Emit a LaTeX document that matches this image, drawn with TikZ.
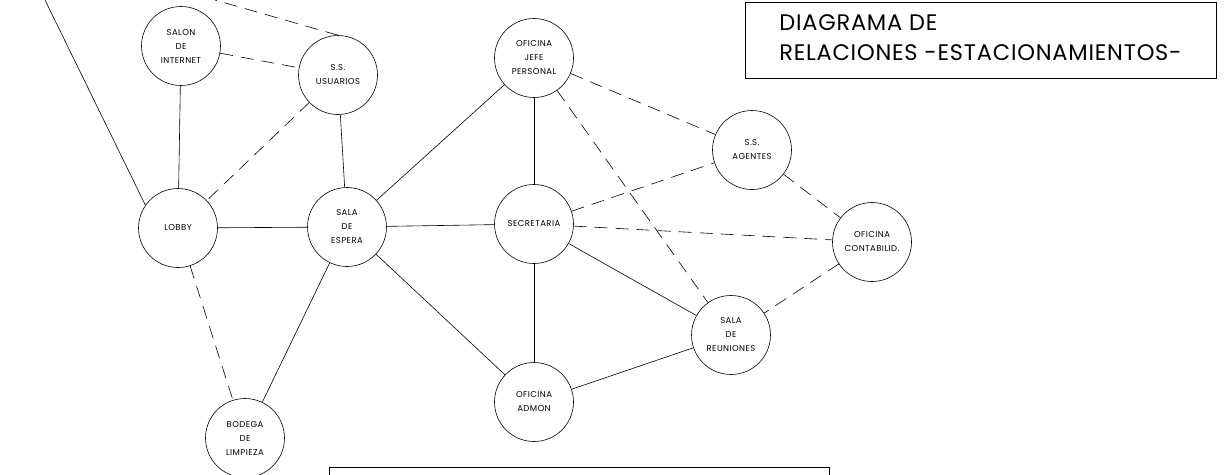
\documentclass[tikz,border=0pt]{standalone}
\usepackage{fontspec}
\setmainfont{Poppins}
\begin{document}
\begin{tikzpicture}[x=1pt, y=-1pt, line width=0.6pt, every node/.style={font=\fontsize{8.5}{14}\selectfont\addfontfeature{LetterSpace=5}}]
  \tikzstyle{room}=[draw,circle,minimum size=79pt,inner sep=0pt,align=center]
  \tikzstyle{rel}=[draw]
  \tikzstyle{weak}=[draw,dash pattern=on 13pt off 8pt]
  \useasboundingbox (0,0) rectangle (1228,474);
  \clip (0,0) rectangle (1228,474);
  % rooms
  \node[room] (salon) at (181,46) {SALON\\DE\\INTERNET};
  \node[room] (ssu) at (338,75) {S.S.\\USUARIOS};
  \node[room] (jefe) at (534,58) {OFICINA\\JEFE\\PERSONAL};
  \node[room] (ssa) at (752,150) {S.S.\\AGENTES};
  \node[room] (lobby) at (178,228) {LOBBY};
  \node[room] (espera) at (347,227) {SALA\\DE\\ESPERA};
  \node[room] (secre) at (534,224) {SECRETARIA};
  \node[room] (conta) at (872,242) {OFICINA\\CONTABILID.};
  \node[room] (reun) at (731,335) {SALA\\DE\\REUNIONES};
  \node[room] (admon) at (534,402) {OFICINA\\ADMON};
  \node[room] (bodega) at (245,438) {BODEGA\\DE\\LIMPIEZA};
  \coordinate (outA) at (45,0);
  \coordinate (outB) at (215,0);
  % solid relations
  \draw[rel] (lobby.145) -- (outA);
  \draw[rel] (salon) -- (lobby);
  \draw[rel] (ssu) -- (espera);
  \draw[rel] (lobby) -- (espera);
  \draw[rel] (espera) -- (jefe);
  \draw[rel] (espera) -- (secre);
  \draw[rel] (espera) -- (bodega);
  \draw[rel] (espera) -- (admon);
  \draw[rel] (jefe) -- (secre);
  \draw[rel] (secre) -- (admon);
  \draw[rel] (secre) -- (reun);
  \draw[rel] (admon) -- (reun);
  % dashed relations
  \draw[weak] (ssu.north) -- (outB);
  \draw[weak] (salon) -- (ssu);
  \draw[weak] (ssu) -- (lobby);
  \draw[weak] (lobby) -- (bodega);
  \draw[weak] (jefe) -- (ssa);
  \draw[weak] (jefe) -- (reun);
  \draw[weak] (secre) -- (ssa);
  \draw[weak] (secre) -- (conta);
  \draw[weak] (ssa) -- (conta);
  \draw[weak] (conta) -- (reun);
  % title
  \node[draw,minimum width=471pt,minimum height=76pt,anchor=north west,inner sep=0pt] (title) at (745,2) {};
  \node[anchor=north west,align=left,font=\fontsize{22.5}{30}\selectfont\addfontfeature{LetterSpace=3.5},inner sep=0pt] (titletext) at (779,14) {DIAGRAMA DE\\RELACIONES -ESTACIONAMIENTOS-};
  \node[draw,minimum width=500pt,minimum height=30pt,anchor=north west,inner sep=0pt] (note) at (329,467) {};
\end{tikzpicture}
\end{document}
